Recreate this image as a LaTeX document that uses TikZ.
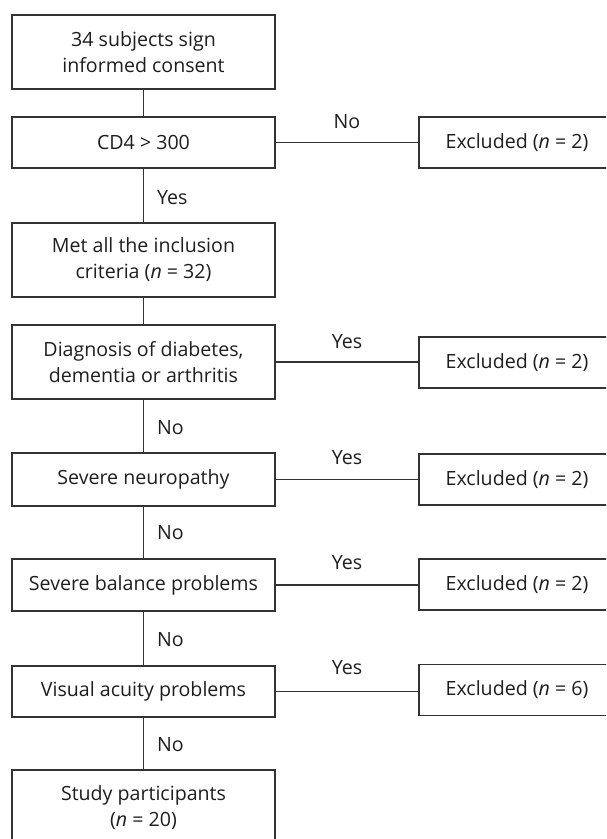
\documentclass[tikz,border=0pt]{standalone}
\usepackage{fontspec}
\setmainfont{Open Sans}
\begin{document}
\begin{tikzpicture}[x=1pt,y=-1pt,
  every node/.style={font=\fontsize{19.6}{26}\selectfont, text=txt},
  box/.style={draw=ln, line width=1.1pt, rectangle, inner sep=0pt, align=center, minimum width=263pt},
  exbox/.style={draw=ln, line width=1.1pt, rectangle, inner sep=0pt, align=center, minimum width=196pt, minimum height=51pt},
  conn/.style={draw=ln, line width=1.1pt},
  vlab/.style={anchor=west, inner sep=0pt},
  hlab/.style={inner sep=0pt}]
\definecolor{ln}{HTML}{333333}
\definecolor{txt}{HTML}{1E1E1E}
\useasboundingbox (0,0) rectangle (606,839);
\clip (0,0) rectangle (606,839);
\node[box, minimum height=74pt] (b1) at (143.5,52) {34 subjects sign\\informed consent};
\node[box, minimum height=51pt] (b2) at (143.5,142.5) {CD4 > 300};
\node[box, minimum height=74pt] (b3) at (143.5,260) {Met all the inclusion\\criteria (\textit{n} = 32)};
\node[box, minimum height=74pt] (b4) at (143.5,362) {Diagnosis of diabetes,\\dementia or arthritis};
\node[box, minimum height=53pt] (b5) at (143.5,479.5) {Severe neuropathy};
\node[box, minimum height=52pt] (b6) at (143.5,585) {Severe balance problems};
\node[box, minimum height=51pt] (b7) at (143.5,691.5) {Visual acuity problems};
\node[box, minimum height=76pt] (b8) at (143.5,808) {Study participants\\(\textit{n} = 20)};
\node[exbox] (e1) at (517,142.5) {Excluded (\textit{n} = 2)};
\node[exbox] (e2) at (517,362.5) {Excluded (\textit{n} = 2)};
\node[exbox] (e3) at (517,479.5) {Excluded (\textit{n} = 2)};
\node[exbox] (e4) at (517,584.5) {Excluded (\textit{n} = 2)};
\node[exbox] (e5) at (517,690) {Excluded (\textit{n} = 6)};
\draw[conn] (b1) -- (b2);
\draw[conn] (b2) -- (b3);
\draw[conn] (b3) -- (b4);
\draw[conn] (b4) -- (b5);
\draw[conn] (b5) -- (b6);
\draw[conn] (b6) -- (b7);
\draw[conn] (b7) -- (b8);
\draw[conn] (b2.east) -- (b2.east -| e1.west);
\draw[conn] (b4.east) -- (b4.east -| e2.west);
\draw[conn] (b5.east) -- (b5.east -| e3.west);
\draw[conn] (b6.east) -- (b6.east -| e4.west);
\draw[conn] (b7.east) -- (b7.east -| e5.west);
\node[hlab] (l1) at (347,122) {No};
\node[hlab] (l2) at (347,342) {Yes};
\node[hlab] (l3) at (347,458) {Yes};
\node[hlab] (l4) at (347,563) {Yes};
\node[hlab] (l5) at (347,668) {Yes};
\node[vlab] (v1) at (157,198) {Yes};
\node[vlab] (v2) at (157,428) {No};
\node[vlab] (v3) at (157,533) {No};
\node[vlab] (v4) at (157,640) {No};
\node[vlab] (v5) at (157,745) {No};
\end{tikzpicture}
\end{document}
